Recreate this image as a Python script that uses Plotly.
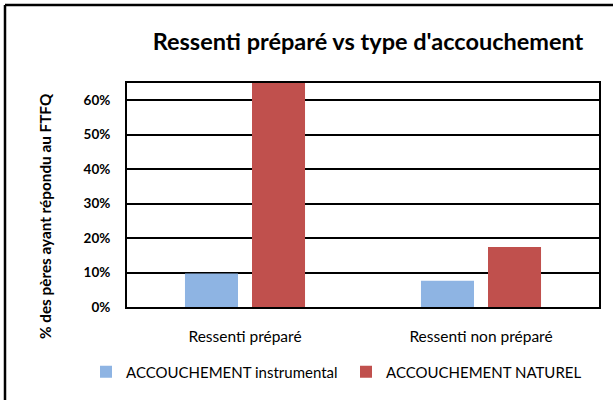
import plotly.graph_objects as go

categories = ["Ressenti préparé", "Ressenti non préparé"]
instrumental = [0.097, 0.076]
naturel = [0.65, 0.174]
series_names = ["ACCOUCHEMENT instrumental", "ACCOUCHEMENT NATUREL"]
y_ticks = [0, 0.1, 0.2, 0.3, 0.4, 0.5, 0.6]

W, H = 613, 400
L, R, T, B = 127, 599, 83, 307
pw, ph = R - L, B - T

def px(x):
    return (x - L) / pw

def py(y):
    return (B - y) / ph

FONT = "Lato"

fig = go.Figure()
fig.add_trace(go.Bar(x=categories, y=instrumental, name=series_names[0],
                     marker=dict(color="#8EB4E3", line=dict(width=0))))
fig.add_trace(go.Bar(x=categories, y=naturel, name=series_names[1],
                     marker=dict(color="#C0504D", line=dict(width=0))))

fig.update_layout(
    width=W, height=H,
    margin=dict(l=L, r=W - R, t=T, b=H - B, autoexpand=False),
    paper_bgcolor="white", plot_bgcolor="white",
    barmode="group", bargap=0.432, bargroupgap=0.209,
    font=dict(family=FONT, color="black"),
    showlegend=True,
    legend=dict(orientation="h", x=px(86), y=py(372), xanchor="left", yanchor="middle",
                font=dict(family=FONT, size=15, color="black"),
                itemwidth=30, tracegroupgap=0, entrywidth=215, entrywidthmode="pixels"),
    title=dict(text="<b>Ressenti préparé vs type d'accouchement</b>",
               x=368 / W, xanchor="center", y=1 - 42 / H, yanchor="middle",
               font=dict(family=FONT, size=23.5, color="black")),
)

fig.update_yaxes(range=[0, 0.65], tickvals=y_ticks, tickformat=".0%",
                 showgrid=True, gridcolor="black", gridwidth=2,
                 showline=True, linecolor="black", linewidth=2, mirror=True,
                 ticks="outside", ticklen=12, tickcolor="rgba(0,0,0,0)",
                 tickfont=dict(family=FONT, size=13.5, color="black", weight="bold"),
                 zeroline=False, fixedrange=True)
fig.update_xaxes(showline=True, linecolor="black", linewidth=2, mirror=True,
                 ticks="outside", ticklen=14, tickcolor="rgba(0,0,0,0)",
                 tickfont=dict(family=FONT, size=15.5, color="black"),
                 fixedrange=True)

fig.add_annotation(text="<b>% des pères ayant répondu au FTFQ</b>", textangle=-90,
                   xref="paper", yref="paper", x=px(45), y=py(216),
                   xanchor="center", yanchor="middle", showarrow=False,
                   font=dict(family=FONT, size=15.3, color="black"))

# outer frame (top and left edges visible)
fig.add_shape(type="line", xref="paper", yref="paper",
              x0=px(5), x1=px(5), y0=py(H + 5), y1=py(5),
              line=dict(color="black", width=2.5))
fig.add_shape(type="line", xref="paper", yref="paper",
              x0=px(5), x1=px(W + 5), y0=py(5), y1=py(5),
              line=dict(color="black", width=2.5))

fig.write_html("out.html", config={"displayModeBar": False},
               post_script="document.body.style.margin='0';document.body.style.overflow='hidden';")
